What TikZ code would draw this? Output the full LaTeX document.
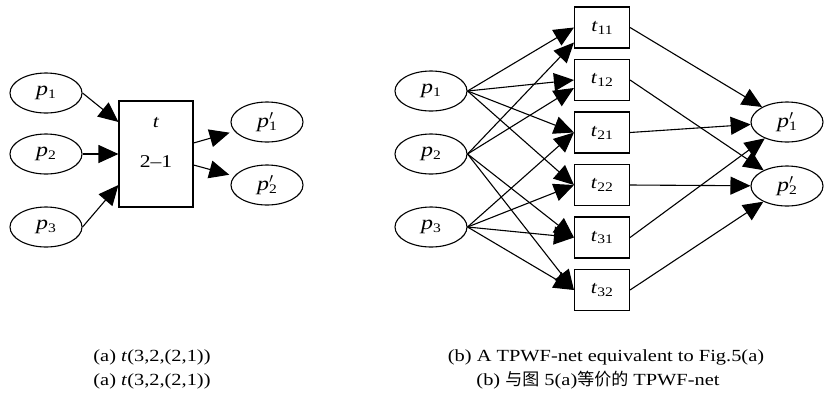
\documentclass[tikz,border=0pt]{standalone}
\usepackage{fontspec}
\setmainfont{Liberation Serif}[FakeStretch=1.2]
\newfontfamily\cjk{Noto Sans CJK SC}
\usetikzlibrary{arrows.meta,calc,shapes.geometric}
\newcommand{\sub}[1]{\raisebox{-0.35ex}{\fontsize{13}{13}\selectfont #1}}
\newcommand{\pp}[1]{\textit{p}\sub{#1}}
\newcommand{\ppr}[1]{\textit{p}\rlap{$'$}\sub{#1}}
\newcommand{\tr}[1]{\textit{t}\sub{#1}}
\begin{document}
\begin{tikzpicture}[x=1pt,y=-1pt,line width=1.1pt,>={Triangle[length=20pt,width=18pt]}]
\path [use as bounding box] (0,0) rectangle (824,392);
\tikzstyle{place} = [ellipse, draw, minimum width=72pt, minimum height=40pt, inner sep=0pt, font=\fontsize{20}{22}\selectfont]
\tikzstyle{trans} = [rectangle, draw, minimum width=55pt, minimum height=41pt, inner sep=0pt, font=\fontsize{18}{20}\selectfont]
\tikzstyle{caption} = [anchor=base, inner sep=0pt, font=\fontsize{17}{19}\selectfont]
% (a)
\node[place] (a1) at (46,93) {\pp{1}};
\node[place] (a2) at (46,154) {\pp{2}};
\node[place] (a3) at (46,227) {\pp{3}};
\node[trans, minimum width=74pt, minimum height=106pt] (t) at (156,154) {};
\node[font=\fontsize{18}{20}\selectfont] (tname) at (156,123) {\textit{t}};
\node[font=\fontsize{18}{20}\selectfont] (tfac) at (156,162) {2--1};
\node[place] (a1o) at (267,122) {\ppr{1}};
\node[place] (a2o) at (267,185) {\ppr{2}};
\draw[->] (a1.east) -- ([yshift=32pt]t.west);
\draw[->] (a2.east) -- (t.west);
\draw[->] (a3.east) -- ([yshift=-31pt]t.west);
\draw[->, shorten >=5pt] ([yshift=11pt]t.east) -- (a1o);
\draw[->, shorten >=5pt] ([yshift=-11pt]t.east) -- (a2o);
% (b)
\node[place] (b1) at (431,91) {\pp{1}};
\node[place] (b2) at (431,154) {\pp{2}};
\node[place] (b3) at (431,227) {\pp{3}};
\node[trans] (t11) at (602,27.5) {\tr{11}};
\node[trans] (t12) at (602,80) {\tr{12}};
\node[trans] (t21) at (602,132.5) {\tr{21}};
\node[trans] (t22) at (602,185) {\tr{22}};
\node[trans] (t31) at (602,237.5) {\tr{31}};
\node[trans] (t32) at (602,290) {\tr{32}};
\node[place] (b1o) at (787,122) {\ppr{1}};
\node[place] (b2o) at (787,186) {\ppr{2}};
\draw[->] (b1.east) -- (t11.west);
\draw[->] (b1.east) -- (t12.west);
\draw[->] (b1.east) -- (t21.west);
\draw[->] (b1.east) -- (t22.west);
\draw[->] (b2.east) -- ([yshift=-15pt]t11.west);
\draw[->] (b2.east) -- ([yshift=-8pt]t12.west);
\draw[->] (b2.east) -- (t31.west);
\draw[->] (b2.east) -- (t32.west);
\draw[->] (b3.east) -- (t21.west);
\draw[->] (b3.east) -- (t22.west);
\draw[->] (b3.east) -- (t31.west);
\draw[->] (b3.east) -- (t32.west);
\draw[->] (t11.east) -- (b1o);
\draw[->] (t12.east) -- (b2o);
\draw[->] (t21.east) -- (b1o);
\draw[->] (t22.east) -- (b2o);
\draw[->] (t31.east) -- (b1o);
\draw[->] (t32.east) -- (b2o);
% captions
\node[caption] (capa1) at (152,361) {(a) \textit{t}(3,2,(2,1))};
\node[caption] (capa2) at (152,385) {(a) \textit{t}(3,2,(2,1))};
\node[caption] (capb1) at (606,361) {(b) A TPWF-net equivalent to Fig.5(a)};
\node[caption] (capb2) at (598,385) {(b) {\cjk\fontsize{17}{19}\selectfont 与图} 5(a){\cjk\fontsize{17}{19}\selectfont 等价的} TPWF-net};
\end{tikzpicture}
\end{document}
